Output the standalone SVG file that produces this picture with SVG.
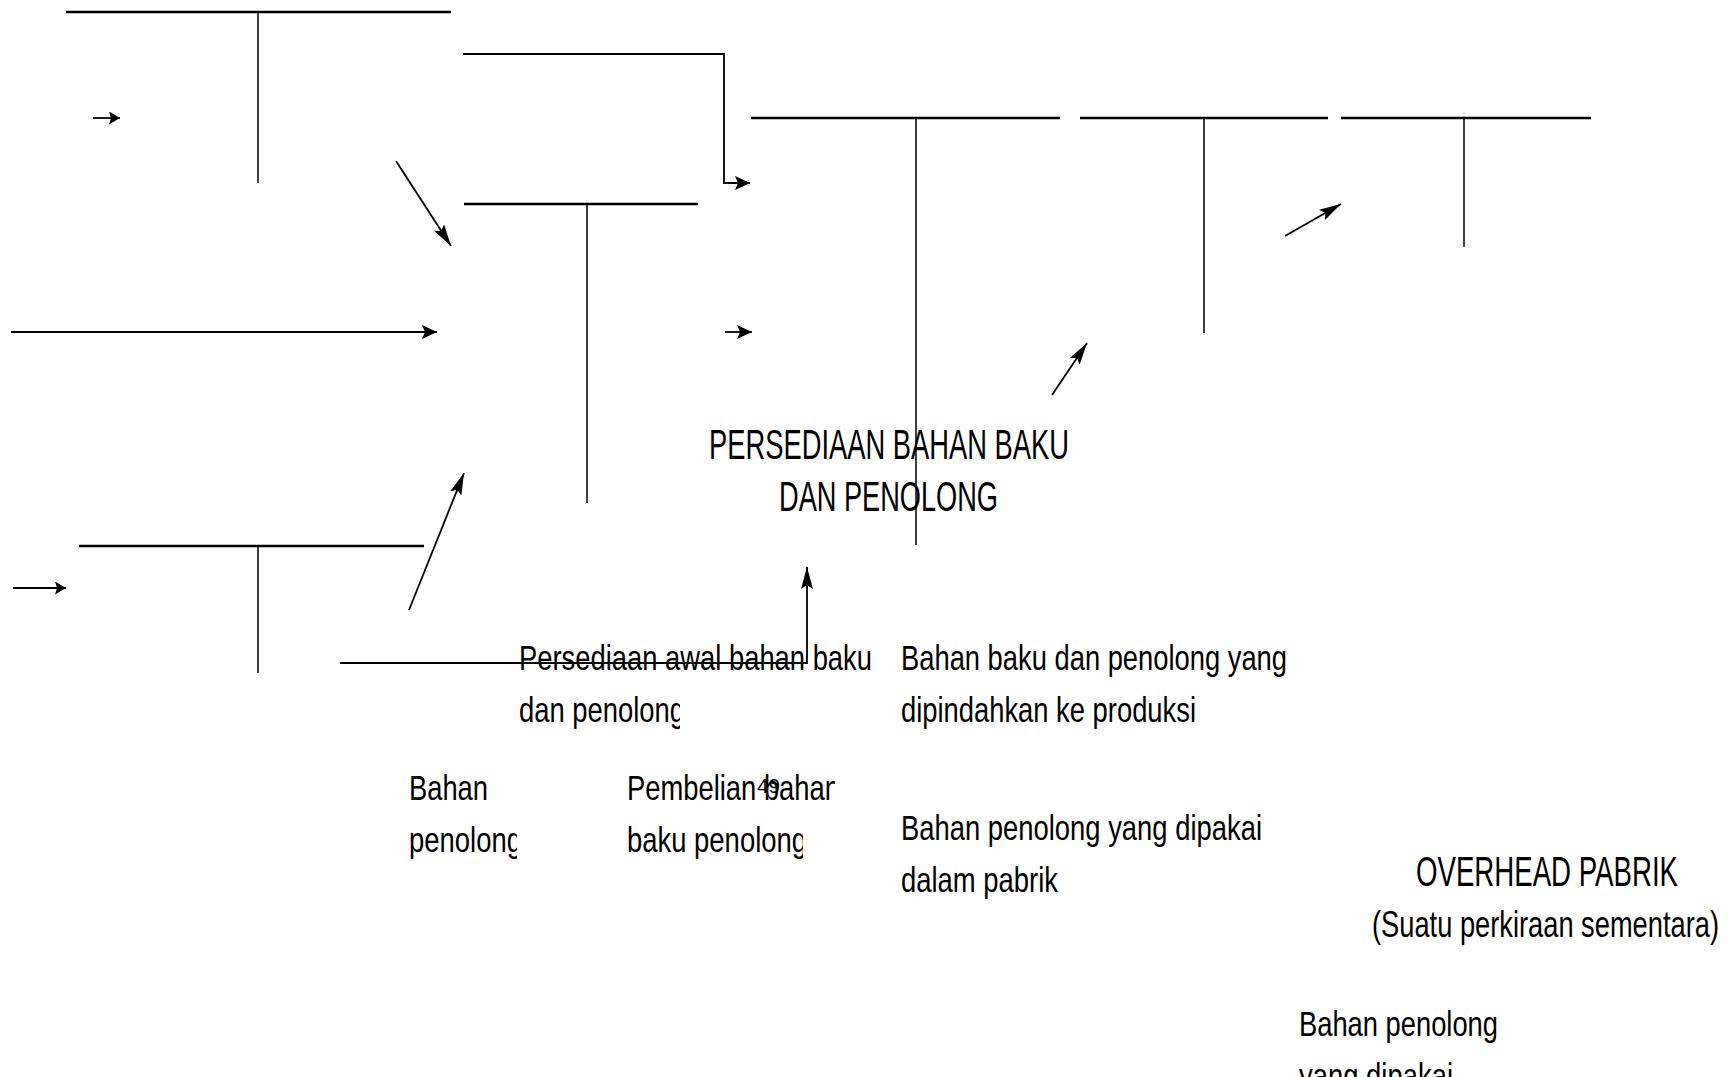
<svg xmlns="http://www.w3.org/2000/svg" width="1728" height="1077" viewBox="0 0 1728 1077">
<style>
.bar{stroke:#000;stroke-width:2.5;fill:none}
.stem{stroke:#000;stroke-width:1.5;fill:none}
.cn{stroke:#000;stroke-width:1.8;fill:none}
.t{font-family:"Liberation Sans Narrow","Liberation Sans",Arial,sans-serif;font-size:35px;fill:#000}
.h{font-family:"Liberation Sans Narrow","Liberation Sans",Arial,sans-serif;font-size:42px;fill:#000}
.s{font-family:"Liberation Sans",Arial,sans-serif;font-size:21px;fill:#000}
</style>
<defs>
<marker id="ah" viewBox="0 0 15 16" refX="15" refY="8" markerWidth="15" markerHeight="16" markerUnits="userSpaceOnUse" orient="auto"><path d="M0,1 L15,8 L0,15 L3,8 z" fill="#000"/></marker>
<marker id="as" viewBox="0 0 11 13" refX="11" refY="6.5" markerWidth="11" markerHeight="13" markerUnits="userSpaceOnUse" orient="auto"><path d="M0,0 L11,6.5 L0,13 L2,6.5 z" fill="#000"/></marker>
<marker id="an" viewBox="0 0 22 12" refX="22" refY="6" markerWidth="22" markerHeight="12" markerUnits="userSpaceOnUse" orient="auto"><path d="M0,0 L22,6 L0,12 L4,6 z" fill="#000"/></marker>
<clipPath id="c1"><rect x="500" y="685" width="180" height="60"/></clipPath>
<clipPath id="c2"><rect x="400" y="815" width="117" height="60"/></clipPath>
<clipPath id="c3"><rect x="600" y="760" width="235" height="55"/></clipPath>
<clipPath id="c4"><rect x="600" y="815" width="203" height="60"/></clipPath>
</defs>
<rect width="1728" height="1077" fill="#fff"/>

<g id="t1"><line class="bar" x1="66" y1="12" x2="451" y2="12"/><line class="stem" x1="258" y1="12" x2="258" y2="183"/></g>
<g id="t2"><line class="bar" x1="464" y1="204" x2="698" y2="204"/><line class="stem" x1="587" y1="204" x2="587" y2="503"/></g>
<g id="t3"><line class="bar" x1="751" y1="118" x2="1060" y2="118"/><line class="stem" x1="916" y1="118" x2="916" y2="545"/></g>
<g id="t4"><line class="bar" x1="1080" y1="118" x2="1328" y2="118"/><line class="stem" x1="1204" y1="118" x2="1204" y2="333"/></g>
<g id="t5"><line class="bar" x1="1341" y1="118" x2="1591" y2="118"/><line class="stem" x1="1464" y1="118" x2="1464" y2="247"/></g>
<g id="t6"><line class="bar" x1="79" y1="546" x2="424" y2="546"/><line class="stem" x1="258" y1="546" x2="258" y2="673"/></g>

<g id="connectors">
<line class="cn" x1="93" y1="118" x2="120" y2="118" marker-end="url(#as)"/>
<path class="cn" d="M463,54 H724 V183 H750" marker-end="url(#ah)"/>
<line class="cn" x1="396" y1="161" x2="451" y2="246" marker-end="url(#an)"/>
<line class="cn" x1="11" y1="332" x2="437" y2="332" marker-end="url(#ah)"/>
<line class="cn" x1="725" y1="332" x2="752" y2="332" marker-end="url(#ah)"/>
<line class="cn" x1="1052" y1="395" x2="1087" y2="343" marker-end="url(#an)"/>
<line class="cn" x1="1285" y1="236" x2="1341" y2="204" marker-end="url(#an)"/>
<line class="cn" x1="409" y1="610" x2="464" y2="473" marker-end="url(#an)"/>
<line class="cn" x1="13" y1="588" x2="66" y2="588" marker-end="url(#as)"/>
<path class="cn" d="M340,663 H807 V567" marker-end="url(#an)"/>
</g>

<g id="persediaan-bahan-baku">
<text class="h" x="709" y="459" textLength="360" lengthAdjust="spacingAndGlyphs">PERSEDIAAN BAHAN BAKU</text>
<text class="h" x="779" y="511" textLength="219" lengthAdjust="spacingAndGlyphs">DAN PENOLONG</text>
</g>
<g id="persediaan-awal">
<text class="t" x="519" y="670" textLength="353" lengthAdjust="spacingAndGlyphs">Persediaan awal bahan baku</text>
<text class="t" x="519" y="722" textLength="166" lengthAdjust="spacingAndGlyphs" clip-path="url(#c1)">dan penolong</text>
</g>
<g id="bahan-dipindahkan">
<text class="t" x="901" y="670" textLength="386" lengthAdjust="spacingAndGlyphs">Bahan baku dan penolong yang</text>
<text class="t" x="901" y="722" textLength="295" lengthAdjust="spacingAndGlyphs">dipindahkan ke produksi</text>
</g>
<g id="bahan-penolong">
<text class="t" x="409" y="800" textLength="79" lengthAdjust="spacingAndGlyphs">Bahan</text>
<text class="t" x="409" y="852" textLength="113" lengthAdjust="spacingAndGlyphs" clip-path="url(#c2)">penolong</text>
</g>
<g id="pembelian">
<text class="t" x="627" y="800" textLength="213" lengthAdjust="spacingAndGlyphs" clip-path="url(#c3)">Pembelian bahan</text>
<text class="t" x="627" y="852" textLength="180" lengthAdjust="spacingAndGlyphs" clip-path="url(#c4)">baku penolong</text>
<text class="s" x="757" y="793" textLength="23" lengthAdjust="spacingAndGlyphs">49</text>
</g>
<g id="bahan-dipakai-pabrik">
<text class="t" x="901" y="840" textLength="361" lengthAdjust="spacingAndGlyphs">Bahan penolong yang dipakai</text>
<text class="t" x="901" y="892" textLength="157" lengthAdjust="spacingAndGlyphs">dalam pabrik</text>
</g>
<g id="overhead-pabrik">
<text class="h" x="1416" y="886" textLength="262" lengthAdjust="spacingAndGlyphs">OVERHEAD PABRIK</text>
<text class="h" style="font-size:37px" x="1372" y="937" textLength="347" lengthAdjust="spacingAndGlyphs">(Suatu perkiraan sementara)</text>
</g>
<g id="bahan-penolong-dipakai">
<text class="t" x="1299" y="1036" textLength="199" lengthAdjust="spacingAndGlyphs">Bahan penolong</text>
<text class="t" x="1299" y="1088" textLength="154" lengthAdjust="spacingAndGlyphs">yang dipakai</text>
</g>
</svg>
